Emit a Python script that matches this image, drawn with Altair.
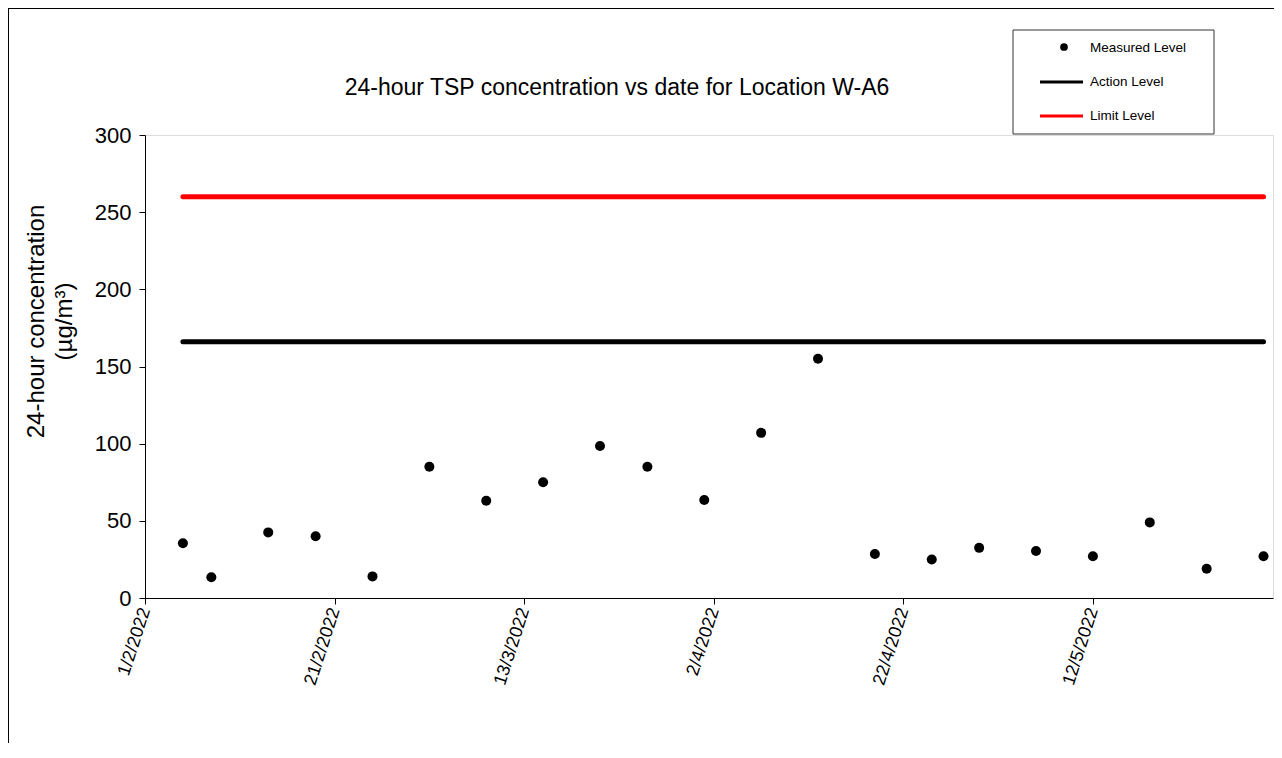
import altair as alt
import pandas as pd

# ---- data ----
dates = ["2022-02-05", "2022-02-08", "2022-02-14", "2022-02-19", "2022-02-25",
         "2022-03-03", "2022-03-09", "2022-03-15", "2022-03-21", "2022-03-26",
         "2022-04-01", "2022-04-07", "2022-04-13", "2022-04-19", "2022-04-25",
         "2022-04-30", "2022-05-06", "2022-05-12", "2022-05-18", "2022-05-24",
         "2022-05-30"]
tsp = [35.5, 13.5, 42.5, 40, 14, 85, 63, 75, 98.5, 85, 63.5, 107, 155,
       28.5, 25, 32.5, 30.5, 27, 49, 19, 27]
action_level = 166
limit_level = 260
legend_labels = ["Measured Level", "Action Level", "Limit Level"]
x_tick_dates = [(2022, 2, 1), (2022, 2, 21), (2022, 3, 13), (2022, 4, 2),
                (2022, 4, 22), (2022, 5, 12)]
x_domain = [(2022, 2, 1), (2022, 5, 31)]
y_ticks = [0, 50, 100, 150, 200, 250, 300]
title_text = "24-hour TSP concentration vs date for Location W-A6"
y_title = ["24-hour concentration", "(\u00b5g/m\u00b3)"]

FONT = "Liberation Sans"
W, H = 1128, 463


def dt(t):
    return alt.DateTime(year=t[0], month=t[1], date=t[2], utc=True)


pts = pd.DataFrame({"date": dates, "tsp": tsp})
lines = pd.DataFrame({
    "date": [dates[0], dates[-1], dates[0], dates[-1]],
    "level": [action_level, action_level, limit_level, limit_level],
    "series": [legend_labels[1]] * 2 + [legend_labels[2]] * 2,
})

x_enc = alt.X(
    "date:T",
    scale=alt.Scale(type="utc", domain=[dt(x_domain[0]), dt(x_domain[1])]),
    axis=alt.Axis(
        values=[dt(t) for t in x_tick_dates],
        labelExpr="utcFormat(datum.value, '%-d/%-m/%Y')",
        labelAngle=-72, labelAlign="right", labelBaseline="middle",
        labelFontSize=18, labelFont=FONT, labelColor="#000000",
        labelPadding=4, tickSize=6, tickColor="#000000",
        domainColor="#000000", grid=False, title=None,
    ),
)
y_scale = alt.Scale(domain=[0, 300], nice=False, zero=True)
y_axis = alt.Axis(
    values=y_ticks, labelFontSize=22, labelFont=FONT, labelColor="#000000",
    labelPadding=8, tickSize=6, tickColor="#000000", domainColor="#000000",
    grid=False, title=y_title, titleFont=FONT, titleFontSize=24,
    titleFontWeight="normal", titleColor="#000000", titleAngle=-90,
    titleX=-102, titleY=186, titleAlign="center", titleBaseline="alphabetic",
    titleLineHeight=28,
)

lines_layer = alt.Chart(lines).mark_line(strokeWidth=5, strokeCap="round").encode(
    x=x_enc,
    y=alt.Y("level:Q", scale=y_scale, axis=y_axis),
    color=alt.Color("series:N", scale=alt.Scale(domain=legend_labels[1:],
                                                range=["#000000", "#ff0000"]),
                    legend=None),
    detail="series:N",
)

points_layer = alt.Chart(pts).mark_circle(size=100, color="#000000", opacity=1).encode(
    x=alt.X("date:T"),
    y=alt.Y("tsp:Q"),
)

# ---- decorative frame, title and manual legend ----
one = pd.DataFrame({"k": [0]})
frame_top = alt.Chart(one).mark_rule(color="#000000", strokeWidth=1).encode(
    x=alt.value(-137), x2=alt.value(1140), y=alt.value(-126.5))
frame_left = alt.Chart(one).mark_rule(color="#000000", strokeWidth=1).encode(
    x=alt.value(-136.5), y=alt.value(-127), y2=alt.value(700))

title_layer = alt.Chart(pd.DataFrame({"t": [title_text]})).mark_text(
    align="center", baseline="middle", font=FONT, fontSize=23, color="#000000"
).encode(text="t:N", x=alt.value(472), y=alt.value(-47))

legend_box = alt.Chart(one).mark_rect(fill="#ffffff", stroke="#333333", strokeWidth=1).encode(
    x=alt.value(868), x2=alt.value(1069), y=alt.value(-105), y2=alt.value(-1))
legend_dot = alt.Chart(one).mark_circle(size=60, color="#000000", opacity=1).encode(
    x=alt.value(919), y=alt.value(-88))
legend_action = alt.Chart(one).mark_rule(color="#000000", strokeWidth=3).encode(
    x=alt.value(895), x2=alt.value(938), y=alt.value(-53))
legend_limit = alt.Chart(one).mark_rule(color="#ff0000", strokeWidth=3).encode(
    x=alt.value(895), x2=alt.value(938), y=alt.value(-19))


def legend_text(i, ypos):
    return alt.Chart(pd.DataFrame({"label": [legend_labels[i]]})).mark_text(
        align="left", baseline="middle", font=FONT, fontSize=13.5, color="#000000"
    ).encode(text="label:N", x=alt.value(945), y=alt.value(ypos))


chart = alt.layer(
    frame_top, frame_left, title_layer,
    lines_layer, points_layer,
    legend_box, legend_dot, legend_action, legend_limit,
    legend_text(0, -87), legend_text(1, -53), legend_text(2, -19),
).properties(
    width=W, height=H,
    autosize=alt.AutoSizeParams(type="none"),
    padding={"left": 137, "top": 127, "right": 1, "bottom": 145},
).configure_view(stroke=None).configure(background="#ffffff")

chart.save("out.html", embed_options={"renderer": "svg", "actions": False})
